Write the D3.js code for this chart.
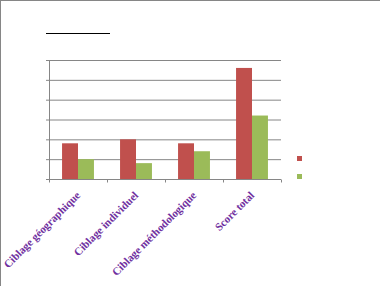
<!DOCTYPE html>
<html><head><meta charset="utf-8">
<script src="https://cdn.jsdelivr.net/npm/d3@7"></script>
<style>body{margin:0;background:#fff}svg{display:block}</style>
</head><body>
<script>
const categories = ["Ciblage géographique","Ciblage individuel","Ciblage méthodologique","Score total"];
const seriesNames = ["Série 1","Série 2"];
const series1 = [1.8, 2.0, 1.8, 5.6];
const series2 = [1.0, 0.8, 1.4, 3.2];
const yTicks = [0,1,2,3,4,5,6];
const colors = ["#C0504D","#9BBB59"];

(function(){
const W=380,H=286;
const svg=d3.select("body").append("svg").attr("width",W).attr("height",H);
svg.append("rect").attr("x",0.5).attr("y",0.5).attr("width",W+10).attr("height",H+10)
  .attr("fill","#fff").attr("stroke","#868686");

const pl=49,pr=281,pt=60,pb=179;
const x=d3.scaleBand().domain(categories).range([pl,pr]).paddingInner(0.45).paddingOuter(0.225);
const xs=d3.scaleBand().domain([0,1]).range([0,x.bandwidth()]);
const y=d3.scaleLinear().domain([0,6]).range([pb,pt]);

// title underline (title text is white)
svg.append("text").attr("x",78).attr("y",31).attr("text-anchor","middle").attr("fill","#fff")
  .attr("font-family","Liberation Serif").attr("font-size",14).text("Titre");
svg.append("line").attr("x1",46).attr("x2",110).attr("y1",33.5).attr("y2",33.5).attr("stroke","#000");

// gridlines
const ya=d3.axisLeft(y).tickValues(yTicks).tickSize(-(pr-pl)).tickSizeOuter(0).tickPadding(6);
const gy=svg.append("g").attr("transform",`translate(${pl},0)`).call(ya);
gy.select(".domain").remove();
gy.selectAll(".tick line").attr("stroke","#868686").attr("x1",-3);
gy.selectAll(".tick text").attr("fill","#fff").attr("font-size",10);

// bars
const data=categories.map((c,i)=>({c,v:[series1[i],series2[i]]}));
const g=svg.append("g").selectAll("g").data(data).join("g").attr("transform",d=>`translate(${x(d.c)},0)`);
g.selectAll("rect").data(d=>d.v.map((v,k)=>({v,k}))).join("rect")
  .attr("x",d=>xs(d.k)).attr("width",xs.bandwidth())
  .attr("y",d=>y(d.v)).attr("height",d=>pb-y(d.v)).attr("fill",d=>colors[d.k]);

// y axis line
svg.append("line").attr("x1",pl+0.5).attr("x2",pl+0.5).attr("y1",pt).attr("y2",pb).attr("stroke","#868686");

// x axis
const step=(pr-pl)/categories.length;
const xa=svg.append("g").attr("transform",`translate(0,${pb+0.5})`);
xa.append("line").attr("x1",46).attr("x2",pr).attr("stroke","#868686");
xa.selectAll("line.t").data(d3.range(categories.length+1)).join("line").attr("class","t")
  .attr("x1",i=>Math.round(pl+i*step)+0.5).attr("x2",i=>Math.round(pl+i*step)+0.5)
  .attr("y1",0).attr("y2",3).attr("stroke","#868686");

svg.append("g").selectAll("text").data(categories).join("text")
  .attr("transform",d=>`translate(${x(d)+x.bandwidth()/2+3},${pb+17}) rotate(-45)`)
  .attr("text-anchor","end").attr("fill","#7030A0")
  .attr("font-family","Liberation Serif").attr("font-weight","bold").attr("font-size",11)
  .text(d=>d);

// legend
const lg=svg.append("g").selectAll("g").data(seriesNames).join("g")
  .attr("transform",(d,i)=>`translate(297,${156+i*18})`);
lg.append("rect").attr("width",5).attr("height",5).attr("fill",(d,i)=>colors[i]);
lg.append("text").attr("x",9).attr("y",5).attr("font-size",10).attr("fill","#fff").text(d=>d);
})();
</script>
</body></html>
